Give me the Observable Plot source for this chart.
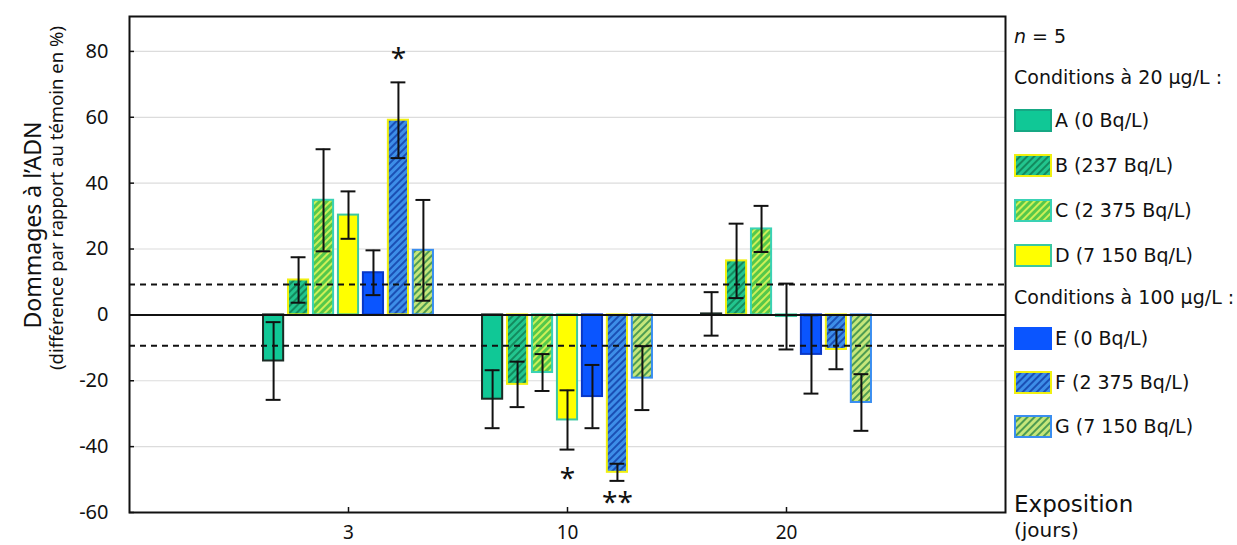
<!DOCTYPE html>
<html><head><meta charset="utf-8">
<script src="https://cdn.jsdelivr.net/npm/d3@7"></script>
<script src="https://cdn.jsdelivr.net/npm/@observablehq/plot@0.6"></script>
<style>
  body{margin:0;background:#fff;}
  #wrap{position:relative;width:1237px;height:545px;overflow:hidden;background:#fff;}
  #chart{position:absolute;left:0;top:0;}
  .ytitle{position:absolute;white-space:nowrap;transform:translate(-50%,-50%) rotate(-90deg);font-family:"Noto Sans",sans-serif;color:#111;}
  #legend{position:absolute;left:1014px;top:0;width:223px;height:545px;font-family:"DejaVu Sans",sans-serif;font-size:19px;color:#111;}
  .lrow{position:absolute;left:0;height:23px;line-height:23px;display:flex;align-items:center;white-space:nowrap;}
  .lrow svg{margin-right:3px;flex:none;}
</style></head>
<body><div id="wrap"><div id="chart"></div>
<div class="ytitle" style="left:32px;top:225px;font-size:23px;">Dommages à l’ADN</div>
<div class="ytitle" style="left:55px;top:198px;font-size:18.5px;">(différence par rapport au témoin en %)</div>
<div id="legend"></div>
</div>
<script>
// ---- data ----
const days = ["3", "10", "20"];
const conditions = ["A", "B", "C", "D", "E", "F", "G"];
const conditionLabels = ["A (0 Bq/L)", "B (237 Bq/L)", "C (2 375 Bq/L)", "D (7 150 Bq/L)", "E (0 Bq/L)", "F (2 375 Bq/L)", "G (7 150 Bq/L)"];
const groupTitle20 = "Conditions à 20 µg/L :";
const groupTitle100 = "Conditions à 100 µg/L :";
const means3  = [-14.0, 10.6, 34.8, 30.3, 12.8, 59.1, 19.6];
const errors3 = [11.8, 6.9, 15.5, 7.2, 6.8, 11.5, 15.3];
const means10  = [-25.6, -21.1, -17.5, -31.9, -24.8, -47.8, -19.2];
const errors10 = [8.8, 6.9, 5.6, 9.0, 9.6, 2.6, 9.7];
const means20  = [0.3, 16.4, 26.1, -0.5, -12.0, -10.5, -26.6];
const errors20 = [6.6, 11.3, 7.0, 10.0, 11.9, 6.0, 8.6];
const yTicks = [-60, -40, -20, 0, 20, 40, 60, 80];
const thresholds = [9.2, -9.4];
const annotations = [
  {day: "3", cond: "F", label: "*", y: 78.7},
  {day: "10", cond: "D", label: "*", y: -48.9},
  {day: "10", cond: "F", label: "**", y: -56.2}
];

// ---- styles ----
const fills = {A: "#10c896", B: "url(#patB)", C: "url(#patC)", D: "#ffff00", E: "#0a55ff", F: "url(#patF)", G: "url(#patG)"};
const strokes = {A: "#1b2b24", B: "#f0f010", C: "#3ad2b4", D: "#3cc8a0", E: "#0838c8", F: "#f0f010", G: "#3a8ef0"};
const legendStrokes = {A: "#16a884", B: "#f0f010", C: "#3ad2b4", D: "#3cc8a0", E: "#0a55ff", F: "#f0f010", G: "#3a8ef0"};

const xStep = 0.114, barW = 0.092, capW = 0.034;
const meansAll = [means3, means10, means20], errorsAll = [errors3, errors10, errors20];
const rows = [];
days.forEach((d, gi) => conditions.forEach((c, k) => rows.push({
  day: d, cond: c, mean: meansAll[gi][k], err: errorsAll[gi][k], xc: gi + (k - 3) * xStep
})));
const xOf = (day, cond) => days.indexOf(day) + (conditions.indexOf(cond) - 3) * xStep;

const chart = Plot.plot({
  width: 1008, height: 545,
  marginLeft: 129, marginRight: 3, marginTop: 16, marginBottom: 33,
  x: {type: "linear", domain: [-1, 3], label: null},
  y: {domain: [-60, 90.6], label: null},
  style: {fontFamily: "Noto Sans", fontSize: "20px", background: "white", color: "#111", overflow: "visible"},
  marks: [
    Plot.gridY(yTicks, {stroke: "#dcdcdc", strokeOpacity: 1, strokeWidth: 1.2}),
    ...conditions.map(c => Plot.rect(rows.filter(r => r.cond === c), {
      x1: d => d.xc - barW / 2, x2: d => d.xc + barW / 2, y1: 0, y2: "mean",
      fill: fills[c], stroke: strokes[c], strokeWidth: 2
    })),
    Plot.ruleY(thresholds, {stroke: "#111", strokeWidth: 2, strokeDasharray: "6,5"}),
    Plot.ruleY([0], {stroke: "#111", strokeWidth: 2}),
    Plot.ruleX(rows, {x: "xc", y1: d => d.mean - d.err, y2: d => d.mean + d.err, stroke: "#111", strokeWidth: 2}),
    Plot.ruleY(rows, {y: d => d.mean + d.err, x1: d => d.xc - capW, x2: d => d.xc + capW, stroke: "#111", strokeWidth: 2}),
    Plot.ruleY(rows, {y: d => d.mean - d.err, x1: d => d.xc - capW, x2: d => d.xc + capW, stroke: "#111", strokeWidth: 2}),
    Plot.text(annotations, {x: d => xOf(d.day, d.cond), y: "y", text: "label", fontSize: 28, dy: 3, fill: "#111"}),
    Plot.ruleY(yTicks, {y: d => d, x1: -1, x2: -1 + 5 / 219, stroke: "#111", strokeWidth: 1.5}),
    Plot.ruleX([0, 1, 2], {x: d => d, y1: -60, y2: -60 + 5 / 3.29, stroke: "#111", strokeWidth: 1.5}),
    Plot.axisY(yTicks, {tickSize: 0, tickPadding: 21, fontSize: 20, label: null, tickFormat: d => String(d)}),
    Plot.axisX([0, 1, 2], {tickSize: 0, tickPadding: 13, fontSize: 19, label: null, tickFormat: i => days[i]}),
    Plot.frame({stroke: "#111", strokeWidth: 2})
  ]
});

// hatch patterns
const svg = d3.select(chart);
const defs = svg.insert("defs", ":first-child");
function addPattern(id, base, stripe) {
  const p = defs.append("pattern").attr("id", id).attr("patternUnits", "userSpaceOnUse")
    .attr("width", 5).attr("height", 5).attr("patternTransform", "rotate(45)");
  p.append("rect").attr("width", 5).attr("height", 5).attr("fill", base);
  p.append("rect").attr("width", 2).attr("height", 5).attr("fill", stripe);
}
addPattern("patB", "#22c58e", "#138a5e");
addPattern("patC", "#55c84a", "#cdef58");
addPattern("patF", "#3d8ee8", "#1a4fb4");
addPattern("patG", "#c6e67a", "#4e9c52");
document.getElementById("chart").appendChild(chart);

// legend
const legend = document.getElementById("legend");
function addRow(top, html) {
  const div = document.createElement("div");
  div.className = "lrow"; div.style.top = (top - 11.5) + "px";
  div.innerHTML = html; legend.appendChild(div);
}
addRow(36, "<span><i>n</i> = 5</span>");
addRow(77, "<span>" + groupTitle20 + "</span>");
addRow(297, "<span>" + groupTitle100 + "</span>");
const rowCenters = [120, 165, 210, 255, 338, 382, 426];
conditions.forEach((c, k) => {
  addRow(rowCenters[k], `<svg width="38" height="23"><rect x="1" y="1" width="36" height="21" fill="${fills[c]}" stroke="${legendStrokes[c]}" stroke-width="2"/></svg><span>${conditionLabels[k]}</span>`);
});
const ex = document.createElement("div");
ex.style.cssText = "position:absolute;left:0;top:490px;font-size:23px;line-height:28px;";
ex.textContent = "Exposition"; legend.appendChild(ex);
const jr = document.createElement("div");
jr.style.cssText = "position:absolute;left:0;top:518px;font-size:20px;line-height:24px;";
jr.textContent = "(jours)"; legend.appendChild(jr);
</script></body></html>
